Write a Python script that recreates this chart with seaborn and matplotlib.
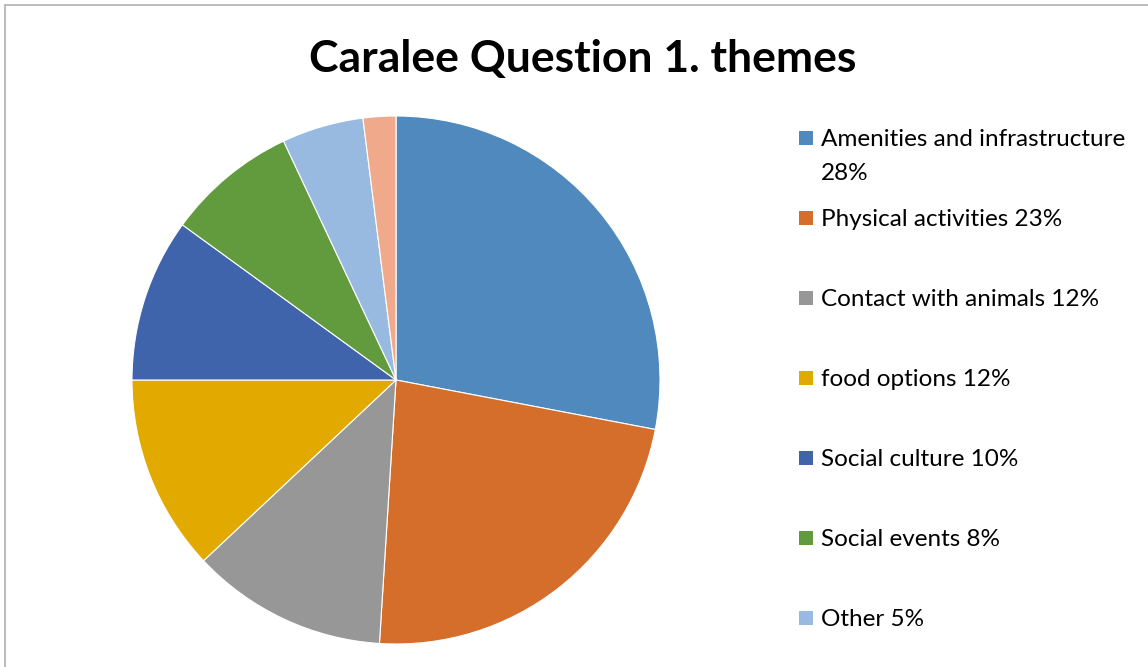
import matplotlib
matplotlib.use("Agg")
import matplotlib.pyplot as plt
from matplotlib.patches import Rectangle
import seaborn as sns

sns.set_theme(style="white")
plt.rcParams['font.family'] = ['Lato', 'DejaVu Sans']

# data (percent of answers)
themes = ['Amenities and infrastructure', 'Physical activities', 'Contact with animals',
          'food options', 'Social culture', 'Social events', 'Other', '(not shown)']
shares = [28, 23, 12, 12, 10, 8, 5, 2]
colours = ['#4F89BE', '#D46E2A', '#979797', '#E2A900', '#3F64AC', '#629A3E', '#98B9E0', '#F0A98A']
legend_labels = ['Amenities and infrastructure\n28%', 'Physical activities 23%',
                 'Contact with animals 12%', 'food options 12%', 'Social culture 10%',
                 'Social events 8%', 'Other 5%']

W, H = 1148, 667
fig = plt.figure(figsize=(W / 100, H / 100), dpi=100)

# grey frame, cut off at right and bottom like the screenshot
fig.patches.append(Rectangle((5 / W, -0.1), 1.2, 1 - 5 / H + 0.1, transform=fig.transFigure,
                             fill=False, edgecolor='#B0B0B0', linewidth=1.2))

cx, cy, r = 396, 380, 264
ax = fig.add_axes([(cx - r) / W, (H - cy - r) / H, 2 * r / W, 2 * r / H])
ax.pie(shares, colors=colours, startangle=90, counterclock=False,
       wedgeprops=dict(edgecolor='white', linewidth=0.8))
ax.set_xlim(-1, 1)
ax.set_ylim(-1, 1)
ax.axis('off')

fig.text(583 / W, 1 - 59 / H, 'Caralee Question 1. themes', ha='center', va='center',
         fontsize=32, fontweight='bold', color='black')

# legend drawn by hand, spaced like the original
for i, (lab, col) in enumerate(zip(legend_labels, colours)):
    y = 138 + 80 * i
    fig.patches.append(Rectangle((799 / W, 1 - (y + 7) / H), 14 / W, 14 / H,
                                 transform=fig.transFigure, facecolor=col, edgecolor='none'))
    for k, line in enumerate(lab.split('\n')):
        fig.text(821 / W, 1 - (y + 1 + 34 * k) / H, line, ha='left', va='center',
                 fontsize=17.5, color='black')

fig.savefig('out.png', dpi=100, facecolor='white')
